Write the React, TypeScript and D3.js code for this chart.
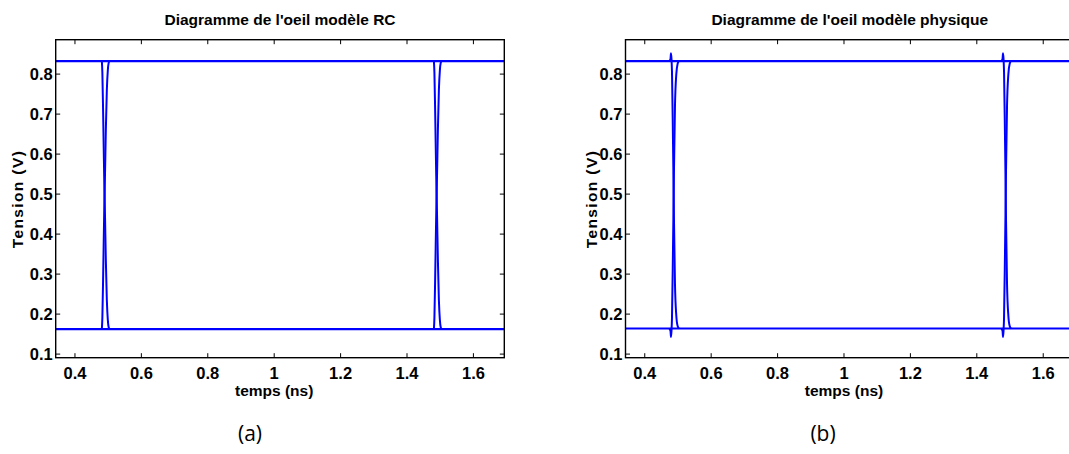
import React from "react";
import * as d3 from "d3";

// ---- data ----
const xTicks = [0.4, 0.6, 0.8, 1, 1.2, 1.4, 1.6];
const yTicks = [0.1, 0.2, 0.3, 0.4, 0.5, 0.6, 0.7, 0.8];
const xDomain = [0.342, 1.693];
const yDomain = [0.091, 0.886];

const titles = ["Diagramme de l'oeil modèle RC", "Diagramme de l'oeil modèle physique"];
const panelLabels = ["(a)", "(b)"];
const xLabel = "temps (ns)";
const yLabel = "Tension (V)";

// logic levels
const highRC = 0.8325;
const lowRC = 0.1625;
const highPhys = 0.8325;
const lowPhys = 0.164;

// RC model edges (two crossings)
const rcRise1: [number, number][] = [
  [0.481, 0.1625], [0.4825, 0.19], [0.485, 0.3], [0.488, 0.45], [0.4905, 0.55],
  [0.493, 0.66], [0.496, 0.76], [0.499, 0.81], [0.5015, 0.828], [0.504, 0.8325],
];
const rcFall1: [number, number][] = [
  [0.481, 0.8325], [0.4825, 0.805], [0.485, 0.695], [0.488, 0.545], [0.4905, 0.445],
  [0.493, 0.335], [0.496, 0.235], [0.499, 0.185], [0.5015, 0.167], [0.504, 0.1625],
];
const rcRise2: [number, number][] = [
  [1.481, 0.1625], [1.4825, 0.19], [1.485, 0.3], [1.488, 0.45], [1.4905, 0.55],
  [1.493, 0.66], [1.496, 0.76], [1.499, 0.81], [1.5015, 0.828], [1.504, 0.8325],
];
const rcFall2: [number, number][] = [
  [1.481, 0.8325], [1.4825, 0.805], [1.485, 0.695], [1.488, 0.545], [1.4905, 0.445],
  [1.493, 0.335], [1.496, 0.235], [1.499, 0.185], [1.5015, 0.167], [1.504, 0.1625],
];

// physical model edges (with spikes)
const phRise1: [number, number][] = [
  [0.474, 0.164], [0.4775, 0.158], [0.479, 0.143], [0.4805, 0.158], [0.482, 0.19],
  [0.485, 0.36], [0.488, 0.56], [0.491, 0.72], [0.495, 0.8], [0.499, 0.826], [0.503, 0.8325],
];
const phFall1: [number, number][] = [
  [0.474, 0.8325], [0.4775, 0.838], [0.479, 0.852], [0.4805, 0.838], [0.482, 0.806],
  [0.485, 0.636], [0.488, 0.436], [0.491, 0.276], [0.495, 0.196], [0.499, 0.17], [0.503, 0.164],
];
const phRise2: [number, number][] = [
  [1.474, 0.164], [1.4775, 0.158], [1.479, 0.143], [1.4805, 0.158], [1.482, 0.19],
  [1.485, 0.36], [1.488, 0.56], [1.491, 0.72], [1.495, 0.8], [1.499, 0.826], [1.503, 0.8325],
];
const phFall2: [number, number][] = [
  [1.474, 0.8325], [1.4775, 0.838], [1.479, 0.852], [1.4805, 0.838], [1.482, 0.806],
  [1.485, 0.636], [1.488, 0.436], [1.491, 0.276], [1.495, 0.196], [1.499, 0.17], [1.503, 0.164],
];

const panels = [
  { left: 55.7, title: titles[0], label: panelLabels[0], labelX: 250, yLabelX: 17,
    high: highRC, low: lowRC, edges: [rcRise1, rcFall1, rcRise2, rcFall2] },
  { left: 625.5, title: titles[1], label: panelLabels[1], labelX: 823, yLabelX: 591,
    high: highPhys, low: lowPhys, edges: [phRise1, phFall1, phRise2, phFall2] },
];

const TOP = 39.7;
const W = 448.6;
const H = 318;
const FONT = "'Liberation Sans', Arial, Helvetica, sans-serif";

function Panel({ p, idx }: { p: any; idx: number }) {
  const x = d3.scaleLinear().domain(xDomain).range([0, W]);
  const y = d3.scaleLinear().domain(yDomain).range([H, 0]);
  const line = d3.line<[number, number]>().x((d) => x(d[0])).y((d) => y(d[1])).curve(d3.curveMonotoneX);
  const clipId = `clip${idx}`;
  const tl = 4.5;
  return (
    <g transform={`translate(${p.left},${TOP})`}>
      <defs>
        <clipPath id={clipId}>
          <rect x={0} y={0} width={W} height={H} />
        </clipPath>
      </defs>
      <g clipPath={`url(#${clipId})`} fill="none" stroke="#0000ff" strokeWidth={2.2}>
        <path d={line([[xDomain[0], p.high], [xDomain[1], p.high]]) || ""} />
        <path d={line([[xDomain[0], p.low], [xDomain[1], p.low]]) || ""} />
        {p.edges.map((e: [number, number][], i: number) => (
          <path key={i} d={line(e) || ""} strokeWidth={2} />
        ))}
      </g>
      <g stroke="#000" strokeWidth={1}>
        {xTicks.map((t) => (
          <g key={"x" + t}>
            <line x1={x(t)} x2={x(t)} y1={H} y2={H - tl} />
            <line x1={x(t)} x2={x(t)} y1={0} y2={tl} />
          </g>
        ))}
        {yTicks.map((t) => (
          <g key={"y" + t}>
            <line x1={0} x2={tl} y1={y(t)} y2={y(t)} />
            <line x1={W} x2={W - tl} y1={y(t)} y2={y(t)} />
          </g>
        ))}
      </g>
      <rect x={0} y={0} width={W} height={H} fill="none" stroke="#000" strokeWidth={1.4} />
      <g fontFamily={FONT} fontWeight="bold" fontSize={16.5} fill="#000">
        {xTicks.map((t) => (
          <text key={"xl" + t} x={x(t)} y={H + 21} textAnchor="middle">
            {d3.format("~g")(t)}
          </text>
        ))}
        {yTicks.map((t) => (
          <text key={"yl" + t} x={-3} y={y(t) + 6} textAnchor="end">
            {t.toFixed(1)}
          </text>
        ))}
      </g>
      <text x={W / 2} y={-14.5} textAnchor="middle" fontFamily={FONT} fontWeight="bold" fontSize={15.5}>
        {p.title}
      </text>
      <text x={x(1)} y={H + 38.5} textAnchor="middle" fontFamily={FONT} fontWeight="bold" fontSize={15.5}>
        {xLabel}
      </text>
      <text
        transform={`translate(${p.yLabelX - p.left + 5.5},${H / 2 + 1}) rotate(-90)`}
        textAnchor="middle"
        fontFamily={FONT}
        fontWeight="bold"
        fontSize={15.5}
        textLength={97}
        lengthAdjust="spacing"
      >
        {yLabel}
      </text>
      <text x={p.labelX - p.left} y={441 - TOP} textAnchor="middle" fontFamily="'Open Sans', 'Liberation Sans', sans-serif" fontSize={21}>
        {p.label}
      </text>
    </g>
  );
}

export default function App() {
  return (
    <svg
      width={1069}
      height={454}
      style={{ position: "absolute", left: 0, top: 0, background: "#fff" }}
    >
      <rect x={0} y={0} width={1069} height={454} fill="#fff" />
      {panels.map((p, i) => (
        <Panel key={i} p={p} idx={i} />
      ))}
    </svg>
  );
}
